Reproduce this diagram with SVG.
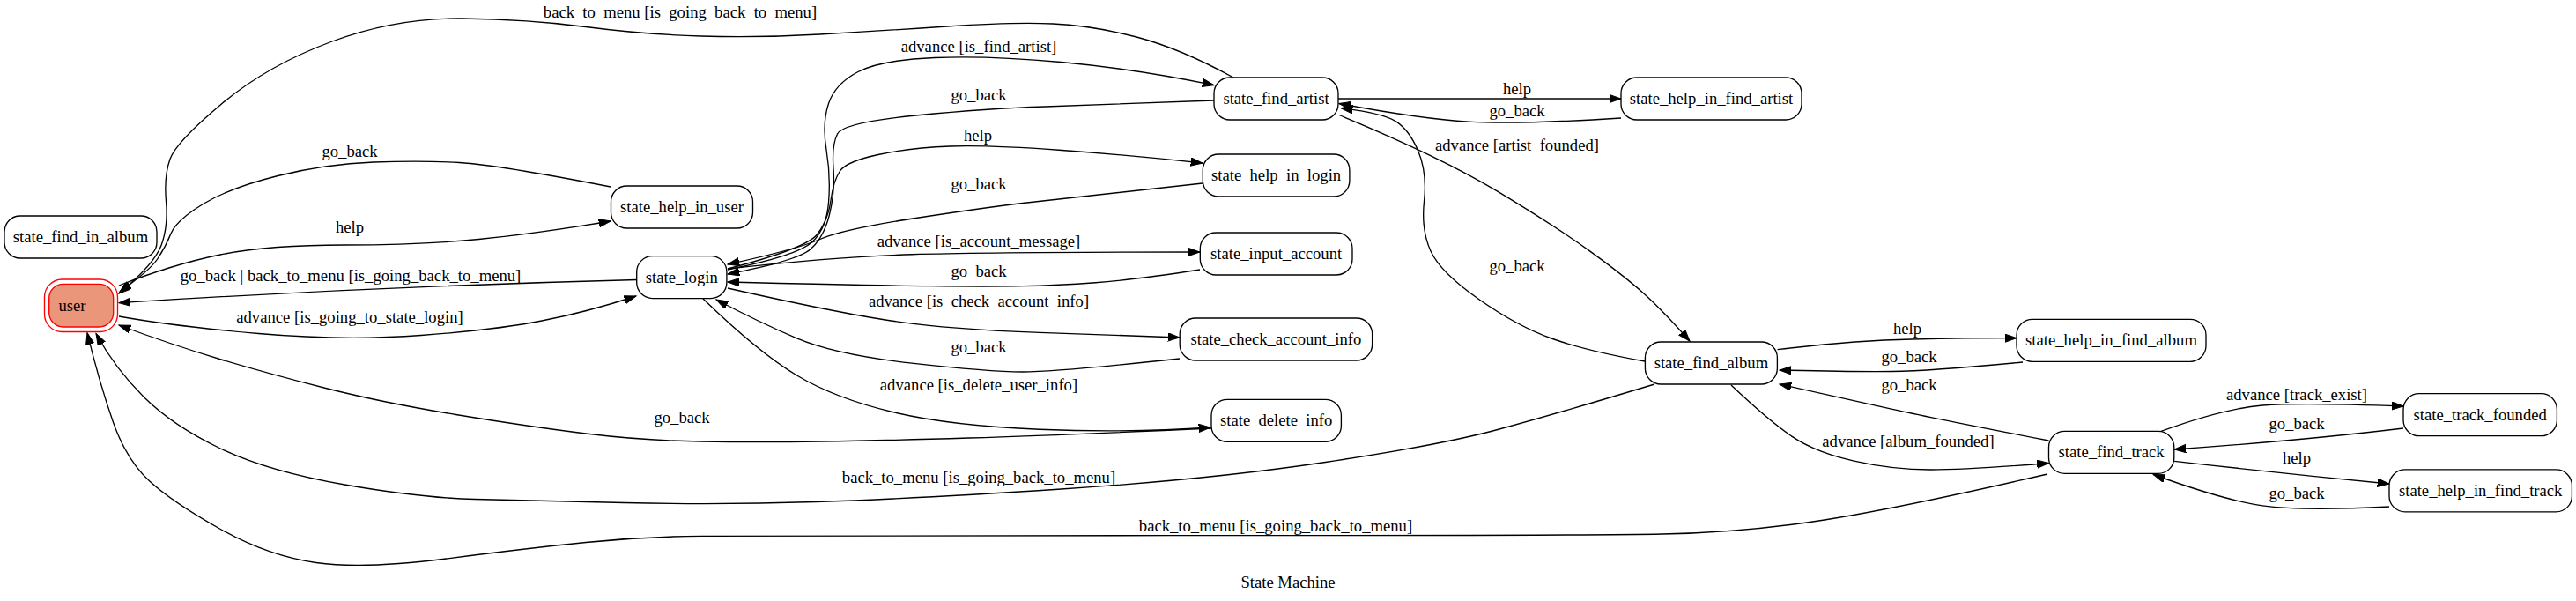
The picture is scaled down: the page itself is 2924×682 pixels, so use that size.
<svg xmlns="http://www.w3.org/2000/svg" width="2924" height="682" viewBox="0 0 2924 682">
<defs>
<marker id="arr" markerUnits="userSpaceOnUse" markerWidth="16" markerHeight="12" refX="13.3" refY="4.67" orient="auto">
<path d="M0,0 L13.3,4.67 L0,9.34 z" fill="#000" stroke="#000" stroke-width="1"/>
</marker>
<style>
.n rect{fill:#fff;stroke:#000;stroke-width:1.33}
.t{font-family:"Liberation Serif","Times New Roman",serif;font-size:18.67px;fill:#000;text-anchor:middle}
.e path{fill:none;stroke:#000;stroke-width:1.33;marker-end:url(#arr)}
</style>
</defs>
<rect x="0" y="0" width="2924" height="682" fill="#fff"/>
<g id="connectors" class="e">
<path d="M1400,88 Q1340,55 1290,42 Q1240,29 1195,27 Q1150,25 1075,30 Q1000,35 930.5,39 Q861,43 795.5,41 Q730,39 665,30.5 Q600,22 525,21 Q450,20 377,47 Q304,74 252,117.5 Q200,161 193,180.5 Q186,200 188.5,228.5 Q191,257 183,278.5 Q175,300 135,333"/>
<path d="M693,212 Q565,187 521.5,184.5 Q478,182 424,184 Q370,186 315.5,199.5 Q261,213 230.5,231.5 Q200,250 194,265 Q188,280 179,293.5 Q170,307 136,331"/>
<path d="M135,324 Q196,300 250,289 Q304,278 391,278 Q478,278 543.5,271.5 Q609,265 693,251"/>
<path d="M723,317.5 Q430,325 135,343.6"/>
<path d="M135,359 Q196,370 293.5,378.5 Q391,387 478,380.5 Q565,374 615,364 Q665,354.5 722,336"/>
<path d="M1375,486 Q1200,494 1100,497 Q1000,500 930.5,501 Q861,502 795.5,501 Q730,500 665,492 Q600,484 517.5,470.5 Q435,457 369.75,440.5 Q304.5,424 250.25,407.75 Q196,391.5 135,369"/>
<path d="M798,339 Q861,400 904.5,426 Q948,452 1013,467.5 Q1078,483 1180,487.25 Q1282,491.5 1374,485"/>
<path d="M1878,436 Q1765,470 1700,487.5 Q1635,505 1504.5,524.5 Q1374,544 1204.5,555 Q1035,566 926,569.5 Q817,573 708.5,570.5 Q600,568 539,566.5 Q478,565 391.25,550 Q304.5,535 250.25,509 Q196,483 163.25,450.5 Q130.5,418 109,378.5"/>
<path d="M2324,538 Q2148,578.5 2061,591.5 Q1974,604.6 1887,606 Q1800,607.7 1330.5,607.7 Q861,607.7 795.5,608.3 Q730,609 665,615.5 Q600,622 506.5,634 Q413,646 358.75,638.5 Q304.5,631 250.25,600.5 Q196,570 169.75,546 Q143.5,522 128.25,478.5 Q113,435 99,377.6"/>
<path d="M826,306 Q905,290 921.5,275 Q938,260 940.5,230 Q943,200 938,170 Q933,140 940.5,117.5 Q948,95 974,81.5 Q1000,68 1061,65.5 Q1122,63 1204.5,70.5 Q1287,78 1378,96.6"/>
<path d="M1378,114 Q1250,119 1186,121 Q1122,123 1039.5,131 Q957,139 950.5,152 Q944,165 946,191 Q948,217 941.5,243.5 Q935,270 919.75,283 Q904.5,296 826,311"/>
<path d="M826,305 Q915,282 927.5,266 Q940,250 943,227.5 Q946,205 953.5,194 Q961,183 998,175.25 Q1035,167.5 1078.5,166 Q1122,164.5 1202,170.25 Q1282,176 1365,185"/>
<path d="M1365,208 Q1200,226 1161,230.5 Q1122,235 1039.5,247.5 Q957,260 930.75,271.5 Q904.5,283 826,300"/>
<path d="M826,305 Q948,291.5 1035,288.75 Q1122,286 1362,286"/>
<path d="M1362,306 Q1287,317.5 1243.5,320.75 Q1200,324 1161,324.7 Q1122,325.4 1056.75,324.7 Q991.5,324 826,320"/>
<path d="M826,327 Q948,354.5 1013.25,364.25 Q1078.5,374 1180.25,377.3 Q1282,380.6 1339,383"/>
<path d="M1339,407 Q1200,422 1161,422 Q1122,422 1035,412.2 Q948,402.4 904.5,383.9 Q861,365.4 813,340"/>
<path d="M1519,112 L1840,112"/>
<path d="M1840,134 Q1722,141.4 1667.5,138.2 Q1613,135 1520,117.5"/>
<path d="M1520,130.5 Q1635,178 1700.25,217.35 Q1765.5,256.7 1804.5,284.85 Q1843.5,313 1865.25,332.5 Q1887,352 1918,387"/>
<path d="M1867,410 Q1800,398 1761,384 Q1722,370 1678.5,339.5 Q1635,309 1624,285 Q1613,261 1616.5,228.5 Q1620,196 1610,172 Q1600,148 1585,138.15 Q1570,128.3 1522,122.7"/>
<path d="M2017.5,396.7 Q2104.5,386.3 2169.75,385 Q2235,383.7 2289,383.7"/>
<path d="M2296,411 Q2191.5,421 2148,421.5 Q2104.5,422 2020,420"/>
<path d="M2325.5,500 Q2191.5,474 2148,464.3 Q2104.5,454.6 2020,436"/>
<path d="M1965,437 Q2009,478.5 2035,495.9 Q2061,513.3 2104.5,523.15 Q2148,533 2191.5,533 Q2235,533 2325.5,525.5"/>
<path d="M2453,489.4 Q2524.8,463.3 2568.3,460 Q2611.8,456.7 2728,461"/>
<path d="M2728,486 Q2611.8,500 2468,510"/>
<path d="M2468,523.3 Q2590,537.2 2712,549"/>
<path d="M2712,575 Q2611.8,580 2568.3,573.85 Q2524.8,567.7 2444.3,538.5"/>
<g class="t">
<text x="772" y="20">back_to_menu [is_going_back_to_menu]</text>
<text x="397" y="178">go_back</text>
<text x="397" y="264">help</text>
<text x="398" y="319">go_back | back_to_menu [is_going_back_to_menu]</text>
<text x="397" y="366">advance [is_going_to_state_login]</text>
<text x="774" y="480">go_back</text>
<text x="1111" y="443">advance [is_delete_user_info]</text>
<text x="1111" y="548">back_to_menu [is_going_back_to_menu]</text>
<text x="1448" y="603">back_to_menu [is_going_back_to_menu]</text>
<text x="1111" y="59">advance [is_find_artist]</text>
<text x="1111" y="114">go_back</text>
<text x="1110" y="160">help</text>
<text x="1111" y="215">go_back</text>
<text x="1111" y="280">advance [is_account_message]</text>
<text x="1111" y="314">go_back</text>
<text x="1111" y="348">advance [is_check_account_info]</text>
<text x="1111" y="400">go_back</text>
<text x="1722" y="107">help</text>
<text x="1722" y="132">go_back</text>
<text x="1722" y="171">advance [artist_founded]</text>
<text x="1722" y="308">go_back</text>
<text x="2165" y="379">help</text>
<text x="2167" y="411">go_back</text>
<text x="2167" y="443">go_back</text>
<text x="2166" y="507">advance [album_founded]</text>
<text x="2607" y="454">advance [track_exist]</text>
<text x="2607" y="487">go_back</text>
<text x="2607" y="526">help</text>
<text x="2607" y="566">go_back</text>
</g>
</g>
<g id="state_find_in_album" class="n"><rect x="5" y="245" width="173" height="48" rx="18"/><text class="t" x="91.5" y="275">state_find_in_album</text></g>
<g id="user"><rect x="50.5" y="317" width="83" height="59.5" rx="20" fill="none" stroke="#ff0000" stroke-width="1.33"/><rect x="55.7" y="322.3" width="73" height="48.7" rx="16" fill="#e9967a" stroke="#ff0000" stroke-width="1.33"/><text class="t" x="66.5" y="352.5" style="text-anchor:start">user</text></g>
<g id="state_help_in_user" class="n"><rect x="693.5" y="211" width="161" height="48" rx="18"/><text class="t" x="774" y="241">state_help_in_user</text></g>
<g id="state_login" class="n"><rect x="722.7" y="290.6" width="102.2" height="48" rx="18"/><text class="t" x="773.8" y="320.6">state_login</text></g>
<g id="state_find_artist" class="n"><rect x="1378" y="88" width="141" height="48" rx="18"/><text class="t" x="1448.5" y="118">state_find_artist</text></g>
<g id="state_help_in_login" class="n"><rect x="1365.3" y="175" width="166.6" height="48" rx="18"/><text class="t" x="1448.6" y="205">state_help_in_login</text></g>
<g id="state_input_account" class="n"><rect x="1362.3" y="264" width="172.7" height="48" rx="18"/><text class="t" x="1448.6" y="294">state_input_account</text></g>
<g id="state_check_account_info" class="n"><rect x="1339.2" y="361" width="218.4" height="48" rx="18"/><text class="t" x="1448.4" y="391">state_check_account_info</text></g>
<g id="state_delete_info" class="n"><rect x="1375" y="453.3" width="147.4" height="48" rx="18"/><text class="t" x="1448.7" y="483.3">state_delete_info</text></g>
<g id="state_help_in_find_artist" class="n"><rect x="1840" y="88" width="205" height="48" rx="18"/><text class="t" x="1942.5" y="118">state_help_in_find_artist</text></g>
<g id="state_find_album" class="n"><rect x="1867.4" y="388" width="150" height="48" rx="18"/><text class="t" x="1942.4" y="418">state_find_album</text></g>
<g id="state_help_in_find_album" class="n"><rect x="2289" y="362.3" width="215" height="48" rx="18"/><text class="t" x="2396.5" y="392.3">state_help_in_find_album</text></g>
<g id="state_find_track" class="n"><rect x="2325.5" y="489.4" width="142.3" height="48" rx="18"/><text class="t" x="2396.6" y="519.4">state_find_track</text></g>
<g id="state_track_founded" class="n"><rect x="2728" y="446.7" width="174.4" height="48" rx="18"/><text class="t" x="2815.2" y="476.7">state_track_founded</text></g>
<g id="state_help_in_find_track" class="n"><rect x="2712" y="532.9" width="207.4" height="48" rx="18"/><text class="t" x="2815.7" y="562.9">state_help_in_find_track</text></g>
<text class="t" x="1462" y="667">State Machine</text>
</svg>
